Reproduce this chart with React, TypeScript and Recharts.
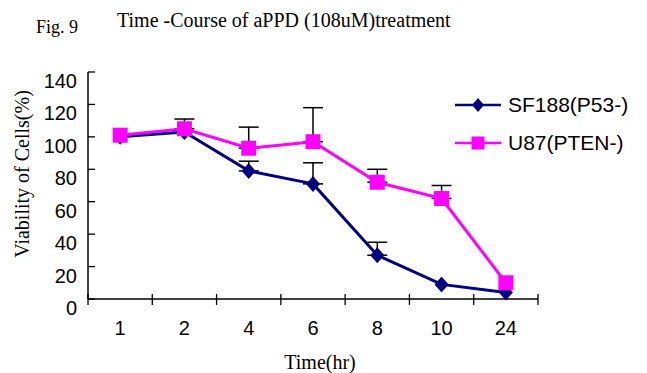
import React from "react";
import { LineChart, Line, XAxis, YAxis, ErrorBar } from "recharts";

// time points (hours) and viability (%) per cell line
const hours = ["1", "2", "4", "6", "8", "10", "24"];
const sf188 = [100, 103, 79, 71, 27, 9, 4];
const u87 = [101, 105, 93, 97, 72, 62, 10];
// upper error only; null = no bar drawn
const sf188Err = [null, null, 6, 13, 8, null, null];
const u87Err = [null, 6, 13, 21, 8, 8, null];
const yTicks = [0, 20, 40, 60, 80, 100, 120, 140];

const W = 647;
const H = 373;
const AXIS_X = 88;
const AXIS_Y = 299;
const RIGHT = 538;
const BAND = (RIGHT - AXIS_X) / hours.length;

const SANS = "'Liberation Sans', Arial, sans-serif";
const SERIF = "'Liberation Serif', 'Times New Roman', serif";
const NAVY = "#000080";
const PINK = "#FF00FF";

const data = hours.map((h, i) => ({
    hour: h,
    sf188: sf188[i],
    u87: u87[i],
    sf188Err: sf188Err[i] == null ? null : [0, sf188Err[i]],
    u87Err: u87Err[i] == null ? null : [0, u87Err[i]],
}));

function diamond(cx: number, cy: number, rx: number, ry: number, key?: any) {
    return (
        <polygon
            key={key}
            points={`${cx},${cy - ry} ${cx + rx},${cy} ${cx},${cy + ry} ${cx - rx},${cy}`}
            fill={NAVY}
        />
    );
}

function square(cx: number, cy: number, s: number, key?: any) {
    return <rect key={key} x={cx - s / 2} y={cy - s / 2} width={s} height={s} fill={PINK} />;
}

// y ticks point inward, labels sit a little below the tick
function YTick({ y, payload }: any) {
    return (
        <g>
            <line x1={AXIS_X} x2={AXIS_X + 7} y1={y} y2={y} stroke="#000" strokeWidth={1.3} />
            <text
                x={AXIS_X - 11}
                y={y + 9}
                textAnchor="end"
                dominantBaseline="central"
                fontFamily={SANS}
                fontSize={20}
                fill="#000"
            >
                {payload.value}
            </text>
        </g>
    );
}

// x ticks mark category boundaries and cross the axis
function XTick({ x, payload, index }: any) {
    const last = index === hours.length - 1;
    return (
        <g>
            <line x1={x - BAND / 2} x2={x - BAND / 2} y1={AXIS_Y - 5} y2={AXIS_Y + 6} stroke="#000" strokeWidth={1.3} />
            {last && (
                <line x1={x + BAND / 2} x2={x + BAND / 2} y1={AXIS_Y - 5} y2={AXIS_Y + 6} stroke="#000" strokeWidth={1.3} />
            )}
            <text
                x={x}
                y={AXIS_Y + 29}
                textAnchor="middle"
                dominantBaseline="central"
                fontFamily={SANS}
                fontSize={20}
                fill="#000"
            >
                {payload.value}
            </text>
        </g>
    );
}

function LegendBox() {
    const rows = [
        { name: "SF188(P53-)", color: NAVY, mark: diamond(23, 12, 6, 7) },
        { name: "U87(PTEN-)", color: PINK, mark: square(23, 12, 13) },
    ];
    return (
        <div style={{ position: "absolute", left: 455, top: 86 }}>
            {rows.map((r) => (
                <div key={r.name} style={{ display: "flex", alignItems: "center", height: 38 }}>
                    <svg width={48} height={24}>
                        <line x1={0} x2={46} y1={12} y2={12} stroke={r.color} strokeWidth={2.5} />
                        {r.mark}
                    </svg>
                    <span style={{ fontFamily: SANS, fontSize: 21, marginLeft: 5, color: "#000" }}>{r.name}</span>
                </div>
            ))}
        </div>
    );
}

export default function App() {
    return (
        <div style={{ position: "absolute", left: 0, top: 0, width: W, height: H, background: "#fff" }}>
            <LineChart
                width={W}
                height={H}
                data={data}
                margin={{ top: 72, right: W - RIGHT, bottom: 0, left: 0 }}
            >
                <XAxis
                    dataKey="hour"
                    padding={{ left: BAND / 2, right: BAND / 2 }}
                    height={H - AXIS_Y}
                    stroke="#000"
                    strokeWidth={1.5}
                    tickLine={false}
                    tick={<XTick />}
                    interval={0}
                />
                <YAxis
                    domain={[0, 140]}
                    ticks={yTicks}
                    width={AXIS_X}
                    stroke="#000"
                    strokeWidth={1.5}
                    tickLine={false}
                    tick={<YTick />}
                    interval={0}
                />
                <Line
                    dataKey="sf188"
                    name="SF188(P53-)"
                    stroke={NAVY}
                    strokeWidth={3}
                    dot={(p: any) => diamond(p.cx, p.cy, 7, 8, `d${p.index}`)}
                    activeDot={false}
                    isAnimationActive={false}
                >
                    <ErrorBar dataKey="sf188Err" direction="y" width={10} stroke="#000" strokeWidth={1.5} />
                </Line>
                <Line
                    dataKey="u87"
                    name="U87(PTEN-)"
                    stroke={PINK}
                    strokeWidth={3}
                    dot={(p: any) => square(p.cx, p.cy, 15, `s${p.index}`)}
                    activeDot={false}
                    isAnimationActive={false}
                >
                    <ErrorBar dataKey="u87Err" direction="y" width={10} stroke="#000" strokeWidth={1.5} />
                </Line>
            </LineChart>
            <LegendBox />
            <svg
                width={W}
                height={H}
                style={{ position: "absolute", left: 0, top: 0, pointerEvents: "none" }}
            >
                <text x={36} y={33} fontFamily={SERIF} fontSize={18} fill="#000">
                    Fig. 9
                </text>
                <text x={117} y={27} fontFamily={SERIF} fontSize={20} fill="#000">
                    Time -Course of aPPD (108uM)treatment
                </text>
                <text
                    x={0}
                    y={0}
                    transform={`translate(29, 174) rotate(-90)`}
                    textAnchor="middle"
                    fontFamily={SERIF}
                    fontSize={20}
                    fill="#000"
                >
                    Viability of Cells(%)
                </text>
                <text x={320} y={369} textAnchor="middle" fontFamily={SERIF} fontSize={20} fill="#000">
                    Time(hr)
                </text>
            </svg>
        </div>
    );
}
